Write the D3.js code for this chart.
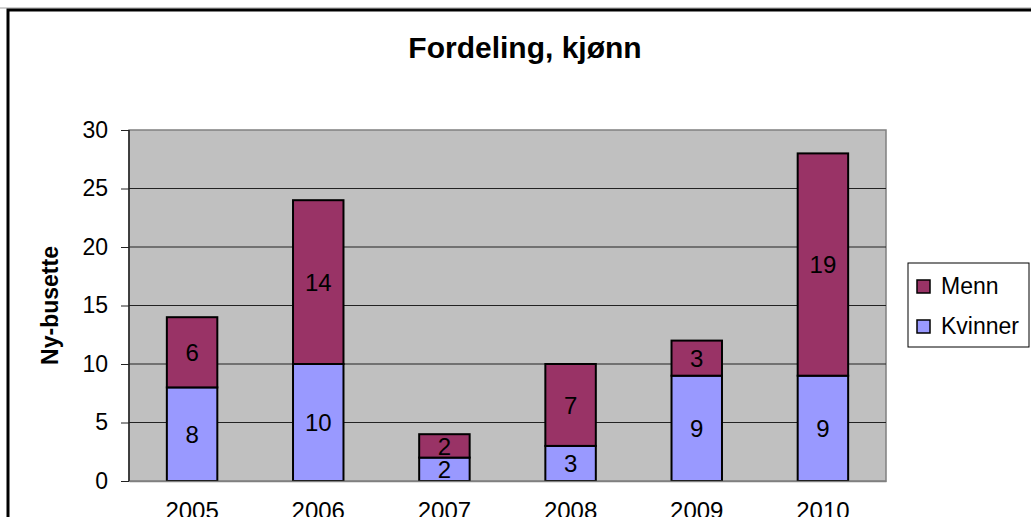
<!DOCTYPE html>
<html>
<head>
<meta charset="utf-8">
<script src="https://cdn.jsdelivr.net/npm/d3@7"></script>
<style>
  body { margin: 0; background: #fff; }
  svg { display: block; font-family: "Liberation Sans", Arial, sans-serif; }
</style>
</head>
<body>
<div id="chart"></div>
<script>
var years = ["2005", "2006", "2007", "2008", "2009", "2010"];
var kvinner = [8, 10, 2, 3, 9, 9];
var menn = [6, 14, 2, 7, 3, 19];
var yTicks = [0, 5, 10, 15, 20, 25, 30];
var seriesNames = ["Kvinner", "Menn"];
var seriesColors = ["#9999ff", "#993366"];

var width = 1031, height = 517;
var plot = { left: 129, top: 130, right: 886, bottom: 481 };
var font = "'Liberation Sans', Arial, sans-serif";

var svg = d3.select("#chart").append("svg")
    .attr("width", width)
    .attr("height", height);

// outer chart border (runs off the right and bottom edges)
svg.append("line")
    .attr("x1", 0).attr("x2", width).attr("y1", 8).attr("y2", 8)
    .attr("stroke", "#a0a0a0").attr("stroke-width", 1);
svg.append("rect")
    .attr("x", 8).attr("y", 10)
    .attr("width", 1100).attr("height", 600)
    .attr("fill", "none")
    .attr("stroke", "#000").attr("stroke-width", 3);

var x = d3.scaleBand()
    .domain(years)
    .range([plot.left, plot.right])
    .paddingInner(0.6)
    .paddingOuter(0.3);

var y = d3.scaleLinear()
    .domain([0, 30])
    .range([plot.bottom, plot.top]);

// plot area
svg.append("rect")
    .attr("x", plot.left).attr("y", plot.top)
    .attr("width", plot.right - plot.left)
    .attr("height", plot.bottom - plot.top)
    .attr("fill", "#c0c0c0")
    .attr("stroke", "#808080").attr("stroke-width", 1.5);

// gridlines
svg.append("g")
    .selectAll("line")
    .data(yTicks.filter(function(d) { return d > 0 && d < 30; }))
    .enter().append("line")
    .attr("x1", plot.left).attr("x2", plot.right)
    .attr("y1", function(d) { return y(d); })
    .attr("y2", function(d) { return y(d); })
    .attr("stroke", "#222").attr("stroke-width", 1);

// stacked data
var rows = years.map(function(yr, i) {
    return { year: yr, Kvinner: kvinner[i], Menn: menn[i] };
});
var stack = d3.stack().keys(seriesNames)(rows);

var layers = svg.append("g")
    .selectAll("g")
    .data(stack)
    .enter().append("g")
    .attr("fill", function(d, i) { return seriesColors[i]; });

layers.selectAll("rect")
    .data(function(d) { return d; })
    .enter().append("rect")
    .attr("x", function(d) { return x(d.data.year); })
    .attr("y", function(d) { return y(d[1]); })
    .attr("width", x.bandwidth())
    .attr("height", function(d) { return y(d[0]) - y(d[1]); })
    .attr("stroke", "#000").attr("stroke-width", 2);

// data labels
layers.selectAll("text")
    .data(function(d) { return d; })
    .enter().append("text")
    .attr("x", function(d) { return x(d.data.year) + x.bandwidth() / 2; })
    .attr("y", function(d) { return (y(d[0]) + y(d[1])) / 2; })
    .attr("dy", "0.36em")
    .attr("text-anchor", "middle")
    .attr("fill", "#000")
    .style("font-size", "24px")
    .text(function(d) { return d[1] - d[0]; });

// y axis
var yAxis = svg.append("g")
    .attr("transform", "translate(" + plot.left + ",0)")
    .call(d3.axisLeft(y).tickValues(yTicks).tickSize(8).tickPadding(13));
yAxis.select(".domain").attr("stroke", "#222").attr("stroke-width", 1.5)
    .attr("d", "M0," + plot.top + "V" + plot.bottom);
yAxis.selectAll(".tick line").attr("stroke", "#222");
yAxis.selectAll("text").style("font-size", "23px").attr("fill", "#000")
    .style("font-family", font);

// x axis
var xAxis = svg.append("g")
    .attr("transform", "translate(0," + plot.bottom + ")")
    .call(d3.axisBottom(x).tickSize(0).tickPadding(21));
xAxis.select(".domain").attr("stroke", "#808080").attr("stroke-width", 1.5);
xAxis.selectAll("text").style("font-size", "24px").attr("fill", "#000")
    .style("font-family", font);

// title
svg.append("text")
    .attr("x", 525).attr("y", 58)
    .attr("text-anchor", "middle")
    .style("font-size", "30px").style("font-weight", "bold")
    .text("Fordeling, kjønn");

// y label
svg.append("text")
    .attr("transform", "translate(58," + ((plot.top + plot.bottom) / 2) + ") rotate(-90)")
    .attr("text-anchor", "middle")
    .style("font-size", "23px").style("font-weight", "bold")
    .text("Ny-busette");

// legend
var legend = svg.append("g");
legend.append("rect")
    .attr("x", 908).attr("y", 263)
    .attr("width", 121).attr("height", 84)
    .attr("fill", "#fff").attr("stroke", "#000").attr("stroke-width", 1);

var legendItems = [
    { name: seriesNames[1], color: seriesColors[1] },
    { name: seriesNames[0], color: seriesColors[0] }
];
var item = legend.selectAll("g.item")
    .data(legendItems)
    .enter().append("g")
    .attr("class", "item")
    .attr("transform", function(d, i) { return "translate(917," + (286 + i * 40) + ")"; });
item.append("rect")
    .attr("x", 0).attr("y", -6)
    .attr("width", 13).attr("height", 13)
    .attr("fill", function(d) { return d.color; })
    .attr("stroke", "#000").attr("stroke-width", 1.5);
item.append("text")
    .attr("x", 24).attr("y", 0).attr("dy", "0.36em")
    .style("font-size", "23px")
    .text(function(d) { return d.name; });
</script>
</body>
</html>
